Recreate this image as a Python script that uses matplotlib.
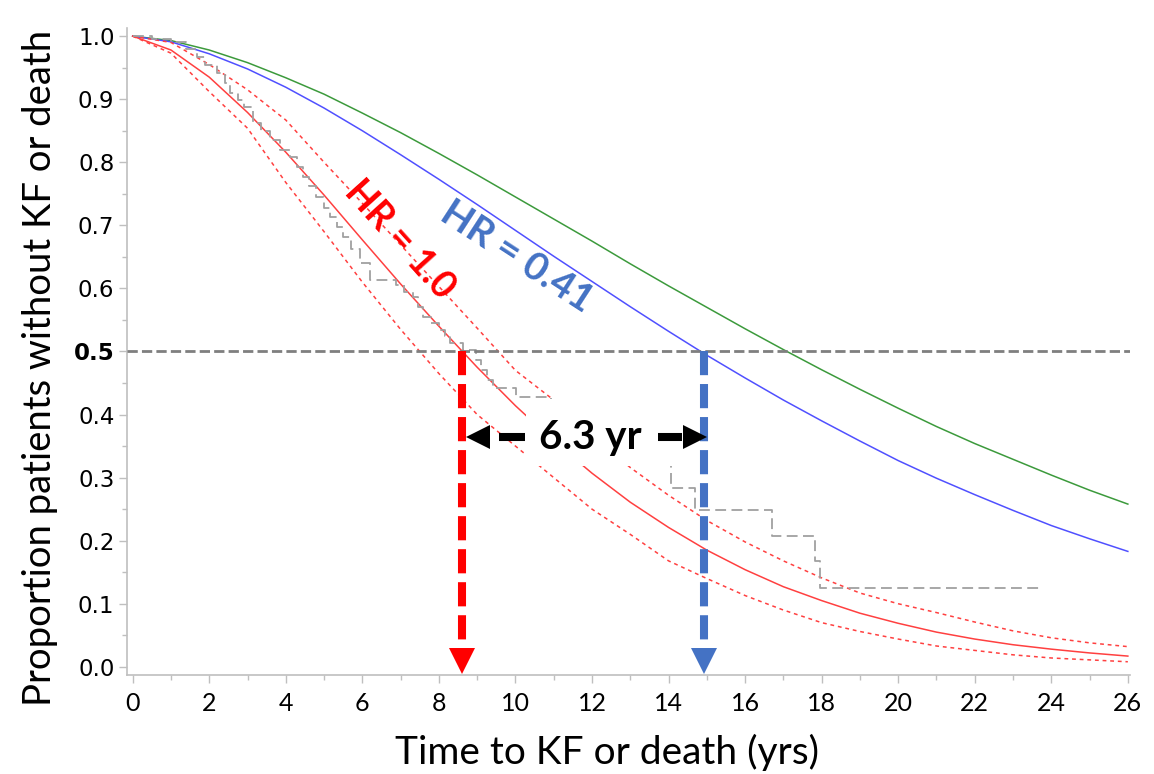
import matplotlib
matplotlib.use('Agg')
import matplotlib.pyplot as plt
from matplotlib.patches import Rectangle
from matplotlib.ticker import MultipleLocator, FormatStrFormatter

# survival, one value per year (0..26)
years = list(range(27))
surv_other = [1.0, 0.993, 0.978, 0.958, 0.934, 0.908, 0.878, 0.847, 0.814, 0.780, 0.745, 0.710, 0.675,
              0.639, 0.604, 0.570, 0.536, 0.503, 0.471, 0.440, 0.410, 0.381, 0.354, 0.329, 0.304, 0.280, 0.258]
surv_hr041 = [1.0, 0.991, 0.972, 0.948, 0.919, 0.886, 0.850, 0.812, 0.773, 0.733, 0.692, 0.651, 0.611,
              0.571, 0.532, 0.494, 0.458, 0.423, 0.390, 0.358, 0.327, 0.299, 0.273, 0.248, 0.224, 0.203, 0.183]
surv_hr10 = [1.0, 0.978, 0.935, 0.879, 0.816, 0.748, 0.677, 0.607, 0.540, 0.475, 0.414, 0.358, 0.307,
             0.261, 0.221, 0.185, 0.154, 0.127, 0.105, 0.085, 0.069, 0.055, 0.044, 0.035, 0.028, 0.022, 0.017]
ci_upper = [1.0, 0.99, 0.955, 0.915, 0.867, 0.80, 0.735, 0.669, 0.603, 0.537, 0.47, 0.423, 0.368,
            0.316, 0.272, 0.232, 0.198, 0.168, 0.141, 0.117, 0.100, 0.086, 0.071, 0.057, 0.046, 0.038, 0.032]
ci_lower = [1.0, 0.973, 0.912, 0.854, 0.768, 0.69, 0.61, 0.535, 0.465, 0.40, 0.35, 0.30, 0.25,
            0.21, 0.168, 0.14, 0.113, 0.09, 0.07, 0.056, 0.044, 0.033, 0.026, 0.019, 0.014, 0.011, 0.008]

# observed (Kaplan-Meier) steps
km_times = [0, 0.5, 1.0, 1.4, 1.67, 1.9, 2.2, 2.4, 2.54, 2.75, 2.9, 3.15, 3.35, 3.58, 3.85, 4.1, 4.3,
            4.45, 4.6, 4.8, 5.0, 5.15, 5.35, 5.5, 5.7, 5.93, 6.19, 6.89, 7.1, 7.32, 7.45, 7.58, 7.8,
            8.0, 8.15, 8.28, 8.62, 8.97, 9.1, 9.25, 9.41, 10.01, 10.94, 12.5, 14.06, 14.69, 16.69,
            17.82, 17.97, 23.71]
km_surv = [1.0, 0.995, 0.99, 0.98, 0.967, 0.955, 0.941, 0.925, 0.91, 0.898, 0.888, 0.862, 0.85, 0.835,
           0.82, 0.808, 0.792, 0.777, 0.762, 0.745, 0.728, 0.713, 0.697, 0.681, 0.662, 0.64, 0.613,
           0.606, 0.595, 0.586, 0.57, 0.555, 0.545, 0.534, 0.524, 0.513, 0.502, 0.487, 0.47, 0.455,
           0.442, 0.428, 0.40, 0.34, 0.284, 0.249, 0.208, 0.168, 0.125, 0.125]

median_ref = 8.61
median_new = 14.92
gap_text = '6.3 yr'
red = '#ff0000'
blue = '#4472c4'

plt.rcParams['font.family'] = ['Lato', 'DejaVu Sans']

fig = plt.figure(figsize=(11.54, 7.74), dpi=100)
ax = fig.add_axes([0.110, 0.1279, 0.869, 0.836])

ax.plot(years, surv_other, color='#3c9a3c', lw=1.1, zorder=2)
ax.plot(years, surv_hr041, color='#5050ff', lw=1.1, zorder=2)
ax.plot(years, surv_hr10, color='#ff4040', lw=1.1, zorder=2)
ax.plot(years, ci_upper, color='#ff4040', lw=1.1, ls=(0, (2.5, 2.5)), zorder=2)
ax.plot(years, ci_lower, color='#ff4040', lw=1.1, ls=(0, (2.5, 2.5)), zorder=2)
ax.plot(km_times, km_surv, color='#a0a0a0', lw=1.3, ls=(0, (6, 3)), drawstyle='steps-post', zorder=2)

# white patch behind the gap label
ax.add_patch(Rectangle((10.28, 0.3185), 4.64, 0.1055, facecolor='white', edgecolor='none', zorder=3))

ax.axhline(0.5, color='#7f7f7f', lw=2, ls=(0, (3.7, 1.5)), zorder=4)

# median drop lines with arrow heads
for xm, c in [(median_ref, red), (median_new, blue)]:
    ax.plot([xm, xm], [0.5, 0.03], color=c, lw=5.8, ls=(0, (3, 1.1)), solid_capstyle='butt',
            dash_capstyle='butt', zorder=5)
    ax.plot([xm], [0.0087], marker='v', ms=19, color=c, mew=0, zorder=5)

# gap arrows
y_gap = 0.3645
ax.plot([9.03], [y_gap], marker='<', ms=17, color='black', mew=0, zorder=6)
ax.plot([9.58, 10.26], [y_gap, y_gap], color='black', lw=5.8, solid_capstyle='butt', zorder=6)
ax.plot([13.72, 14.36], [y_gap, y_gap], color='black', lw=5.8, solid_capstyle='butt', zorder=6)
ax.plot([14.68], [y_gap], marker='>', ms=17, color='black', mew=0, zorder=6)
ax.text(11.95, 0.345, gap_text, fontsize=29, fontweight='bold', ha='center', va='baseline', zorder=6)

ax.text(6.97, 0.677, 'HR = 1.0', color=red, fontsize=27, fontweight='bold', rotation=-48,
        ha='center', va='center', rotation_mode='anchor', zorder=6)
ax.text(10.05, 0.65, 'HR = 0.41', color=blue, fontsize=28, fontweight='bold', rotation=-33,
        ha='center', va='center', rotation_mode='anchor', zorder=6)

ax.set_xlim(-0.15, 26.05)
ax.set_ylim(-0.013, 1.013)
ax.xaxis.set_major_locator(MultipleLocator(2))
ax.xaxis.set_minor_locator(MultipleLocator(1))
ax.yaxis.set_major_locator(MultipleLocator(0.1))
ax.yaxis.set_minor_locator(MultipleLocator(0.05))
ax.yaxis.set_major_formatter(FormatStrFormatter('%.1f'))

for s in ['top', 'right']:
    ax.spines[s].set_visible(False)
for s in ['left', 'bottom']:
    ax.spines[s].set_color('#bfbfbf')
    ax.spines[s].set_linewidth(1.2)
ax.tick_params(which='major', length=6, width=1, color='#bfbfbf')
ax.tick_params(which='minor', length=3.5, width=1, color='#bfbfbf')
ax.tick_params(axis='x', labelsize=18, pad=6)
ax.tick_params(axis='y', labelsize=16.5, pad=3)
for lab in ax.get_yticklabels():
    lab.set_family('DejaVu Sans')
    if lab.get_text() == '0.5':
        lab.set_fontweight('bold')

fig.text(40 / 1154, 1 - 368 / 774, 'Proportion patients without KF or death', rotation=90,
         fontsize=27.5, ha='center', va='center')
fig.text(607 / 1154, 1 - 752 / 774, 'Time to KF or death (yrs)', fontsize=28, ha='center', va='center')

fig.savefig('out.png', dpi=100)
